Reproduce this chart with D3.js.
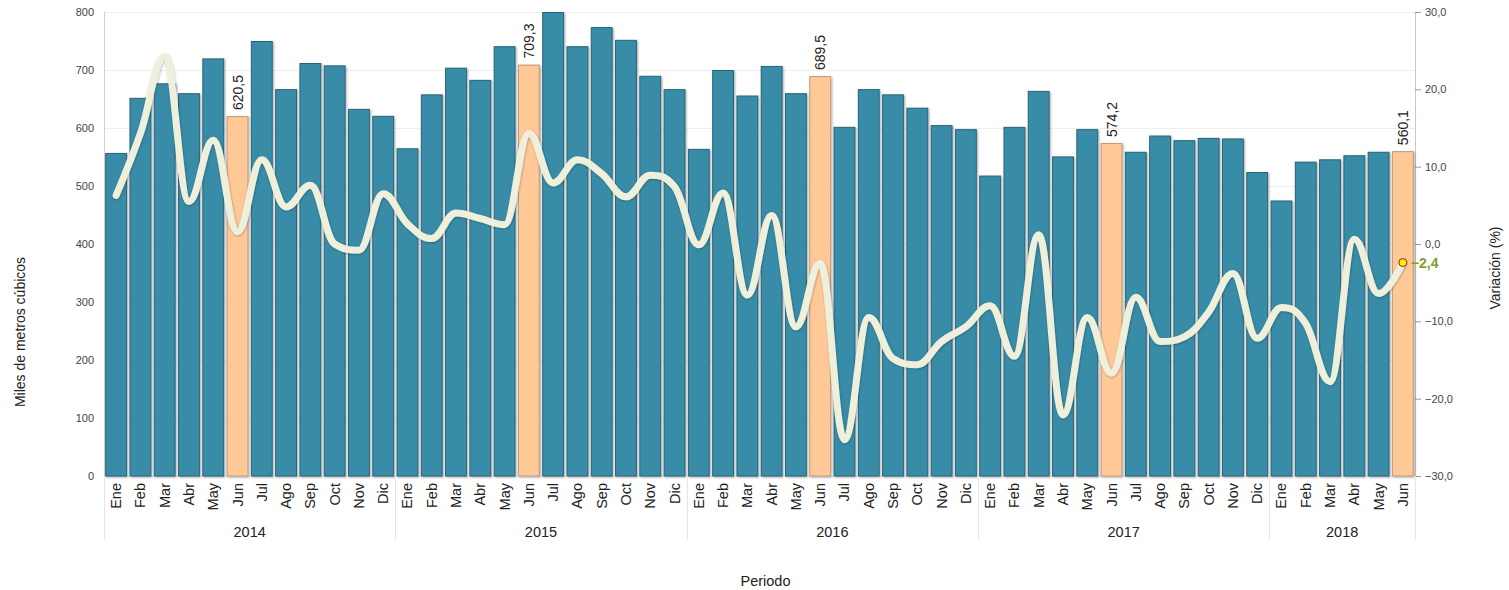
<!DOCTYPE html>
<html><head><meta charset="utf-8">
<script src="https://cdn.jsdelivr.net/npm/d3@7/dist/d3.min.js"></script>
<style>
html,body{margin:0;padding:0;background:#fff;}
svg{display:block;font-family:Arial,"Liberation Sans",Helvetica,sans-serif;}
</style></head>
<body><svg id="c" width="1509" height="590"></svg>
<script>
const months = ["Ene","Feb","Mar","Abr","May","Jun","Jul","Ago","Sep","Oct","Nov","Dic"];
const years = ["2014","2015","2016","2017","2018"];
const monthsPerYear = [12,12,12,12,6];
const volume = [
  557,652,677,660,720,620.5,750,667,712,708,633,621,
  565,658,704,683,741,709.3,800,741,774,752,690,667,
  564,700,656,707,660,689.5,602,667,658,635,605,598,
  518,602,664,551,598,574.2,559,587,579,583,582,524,
  475,542,546,553,559,560.1
];
const variation = [
  6.3,14.3,24.2,5.5,13.4,1.6,10.9,4.8,7.6,0.0,-0.8,6.5,
  2.6,0.7,4.0,3.3,2.5,14.3,7.9,10.9,9.1,6.1,8.9,7.4,
  -0.1,6.6,-6.6,3.7,-10.7,-2.5,-25.3,-9.5,-14.8,-15.6,-12.6,-10.7,
  -8.0,-14.5,1.2,-22.1,-9.5,-16.7,-6.9,-12.6,-12.0,-8.8,-3.8,-12.2,
  -8.2,-10.3,-17.8,0.6,-6.4,-2.4
];
const leftTicks = [0,100,200,300,400,500,600,700,800];
const rightTicks = [-30,-20,-10,0,10,20,30];
const highlightMonth = "Jun";

const fmt = v => d3.format(".1f")(v).replace(".", ",");

const rows = [];
years.forEach((y,yi)=>{ for(let m=0;m<monthsPerYear[yi];m++){ rows.push({key:y+"-"+months[m], year:y, month:months[m]}); } });
rows.forEach((r,i)=>{ r.vol = volume[i]; r.pct = variation[i]; });

const svg = d3.select("#c");
const L=104, R=1415, T=12, B=476;
const x = d3.scaleBand().domain(rows.map(r=>r.key)).range([L,R]).paddingInner(0.1).paddingOuter(0.05);
const yL = d3.scaleLinear().domain([0,800]).range([B,T]);
const yR = d3.scaleLinear().domain([-30,30]).range([B,T]);

const defs = svg.append("defs");
const f = defs.append("filter").attr("id","sh").attr("x","-20%").attr("y","-20%").attr("width","140%").attr("height","140%");
f.append("feDropShadow").attr("dx",1).attr("dy",1).attr("stdDeviation",1).attr("flood-color","#000").attr("flood-opacity",0.35);
const f2 = defs.append("filter").attr("id","lsh").attr("x","-5%").attr("y","-20%").attr("width","110%").attr("height","140%");
f2.append("feDropShadow").attr("dx",0.5).attr("dy",0.8).attr("stdDeviation",0.8).attr("flood-color","#000").attr("flood-opacity",0.3);

svg.append("g").selectAll("line").data(leftTicks).join("line")
  .attr("x1",L).attr("x2",R).attr("y1",d=>yL(d)+0.5).attr("y2",d=>yL(d)+0.5)
  .attr("stroke","#eeeeee").attr("stroke-width",1);

svg.append("line").attr("x1",L+0.5).attr("x2",L+0.5).attr("y1",T).attr("y2",B).attr("stroke","#d0d0d0");
svg.append("g").selectAll("text").data(leftTicks).join("text")
  .attr("x",L-10).attr("y",d=>yL(d)+4).attr("text-anchor","end")
  .attr("font-size",11).attr("fill","#444").text(d=>d);

svg.append("line").attr("x1",R+0.5).attr("x2",R+0.5).attr("y1",T).attr("y2",B).attr("stroke","#c8c8c8");
svg.append("g").selectAll("line").data(rightTicks).join("line")
  .attr("x1",R).attr("x2",R+6).attr("y1",d=>yR(d)+0.5).attr("y2",d=>yR(d)+0.5).attr("stroke","#999");
svg.append("g").selectAll("text").data(rightTicks).join("text")
  .attr("x",R+10).attr("y",d=>yR(d)+4).attr("text-anchor","start")
  .attr("font-size",11).attr("fill","#444").text(d=>fmt(d));

svg.append("g").selectAll("rect").data(rows).join("rect")
  .attr("x",d=>x(d.key)+0.5).attr("width",x.bandwidth()-1)
  .attr("y",d=>yL(d.vol)+0.5).attr("height",d=>B-yL(d.vol)-0.5)
  .attr("fill",d=>d.month===highlightMonth?"#ffc897":"#378ca8")
  .attr("stroke",d=>d.month===highlightMonth?"#c09a7a":"#2a6577")
  .attr("stroke-width",1)
  .attr("filter","url(#sh)");

svg.append("g").selectAll("text").data(rows.filter(r=>r.month===highlightMonth)).join("text")
  .attr("transform",d=>`translate(${x(d.key)+x.bandwidth()/2+5},${yL(d.vol)-6}) rotate(-90)`)
  .attr("text-anchor","start").attr("font-size",14).attr("fill","#222").text(d=>fmt(d.vol));

const pts = rows.map(r=>[x(r.key)+x.bandwidth()/2, yR(r.pct)]);
function splinePath(p){
  const n=p.length, sm=1.5, den=sm+1;
  const lc=[], rc=[];
  for(let i=0;i<n;i++){
    if(i===0||i===n-1){ lc.push([p[i][0],p[i][1]]); rc.push([p[i][0],p[i][1]]); continue; }
    const [px,py]=p[i], [lx,ly]=p[i-1], [nx,ny]=p[i+1];
    let lcx=(sm*px+lx)/den, lcy=(sm*py+ly)/den, rcx=(sm*px+nx)/den, rcy=(sm*py+ny)/den;
    if(rcx!==lcx){ const corr=((rcy-lcy)*(rcx-px))/(rcx-lcx)+py-rcy; lcy+=corr; rcy+=corr; }
    if(lcy>ly&&lcy>py){ lcy=Math.max(ly,py); rcy=2*py-lcy; }
    else if(lcy<ly&&lcy<py){ lcy=Math.min(ly,py); rcy=2*py-lcy; }
    if(rcy>ny&&rcy>py){ rcy=Math.max(ny,py); lcy=2*py-rcy; }
    else if(rcy<ny&&rcy<py){ rcy=Math.min(ny,py); lcy=2*py-rcy; }
    lc.push([lcx,lcy]); rc.push([rcx,rcy]);
  }
  const path=d3.path();
  path.moveTo(p[0][0],p[0][1]);
  for(let i=1;i<n;i++){ path.bezierCurveTo(rc[i-1][0],rc[i-1][1],lc[i][0],lc[i][1],p[i][0],p[i][1]); }
  return path.toString();
}
svg.append("path").attr("d",splinePath(pts)).attr("fill","none")
  .attr("stroke","#eef0dc").attr("stroke-width",7).attr("stroke-linejoin","round").attr("stroke-linecap","round")
  .attr("filter","url(#lsh)");

const last = rows[rows.length-1];
const lp = pts[pts.length-1];
svg.append("circle").attr("cx",lp[0]).attr("cy",lp[1]).attr("r",4).attr("fill","#ffee00").attr("stroke","#8a2b2b").attr("stroke-width",1);
svg.append("text").attr("x",lp[0]+8).attr("y",lp[1]+5).attr("font-size",14).attr("font-weight","bold").attr("fill","#7f9c2c").text(fmt(last.pct));

svg.append("g").selectAll("text").data(rows).join("text")
  .attr("transform",d=>`translate(${x(d.key)+x.bandwidth()/2+5},${B+7}) rotate(-90)`)
  .attr("text-anchor","end").attr("font-size",14.5).attr("fill","#222").text(d=>d.month);

const step = x.step();
let start=0;
const groups = years.map((y,yi)=>{ const g={year:y, s:start, e:start+monthsPerYear[yi]}; start+=monthsPerYear[yi]; return g; });
const bx = i => L + (i===0?0:(i>=rows.length?R-L:x(rows[i].key)-L-step*x.paddingInner()/2));
const bounds = groups.map(g=>g.s).concat([rows.length]);
svg.append("g").selectAll("line").data(bounds).join("line")
  .attr("x1",d=>Math.round(bx(d))+0.5).attr("x2",d=>Math.round(bx(d))+0.5).attr("y1",B).attr("y2",B+64)
  .attr("stroke","#e6e6e6");
svg.append("g").selectAll("text").data(groups).join("text")
  .attr("x",g=>(bx(g.s)+bx(g.e))/2).attr("y",B+61).attr("text-anchor","middle")
  .attr("font-size",14.5).attr("fill","#222").text(g=>g.year);

svg.append("text").attr("x",(L+R)/2+6).attr("y",586).attr("text-anchor","middle").attr("font-size",14.5).attr("fill","#222").text("Periodo");
svg.append("text").attr("transform","translate(25,332) rotate(-90)").attr("text-anchor","middle").attr("font-size",14).attr("fill","#222").text("Miles de metros cúbicos");
svg.append("text").attr("transform","translate(1500,268) rotate(-90)").attr("text-anchor","middle").attr("font-size",14).attr("fill","#222").text("Variación (%)");
</script></body></html>
